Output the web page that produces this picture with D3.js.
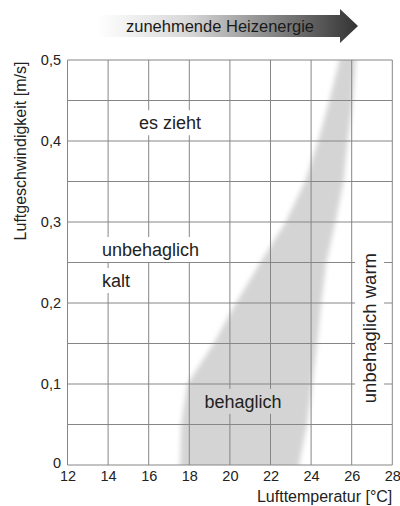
<!DOCTYPE html>
<html>
<head>
<meta charset="utf-8">
<script src="https://cdn.jsdelivr.net/npm/d3@7"></script>
<style>
  body { margin: 0; background: #fff; }
  text { font-family: "Liberation Sans", Arial, sans-serif; fill: #222; }
</style>
</head>
<body>
<div id="chart"></div>
<script>
// data
const tempTicks = [12, 14, 16, 18, 20, 22, 24, 26, 28];
const speedTicks = [0, 0.05, 0.1, 0.15, 0.2, 0.25, 0.3, 0.35, 0.4, 0.45, 0.5];
const comfortSpeed = [0, 0.05, 0.1, 0.15, 0.2, 0.25, 0.3, 0.35, 0.4, 0.45, 0.5];
const comfortLow   = [17.55, 17.6, 17.9, 19.2, 20.3, 21.5, 22.75, 23.7, 24.35, 24.9, 25.4];
const comfortHigh  = [23.4, 23.8, 24.05, 24.3, 24.5, 24.75, 25.2, 25.6, 25.8, 26.05, 26.2];

const zoneLabels = [
    { lines: ["es zieht"], t: 17.05, v: 0.4145, anchor: "middle", fill: "#fff" },
    { lines: ["unbehaglich", "kalt"], t: 13.7, v: 0.258, anchor: "start", fill: "#fff" },
    { lines: ["behaglich"], t: 20.65, v: 0.0705, anchor: "middle", fill: "#d4d4d4" }
];
const warmLabel = { text: "unbehaglich warm", t: 27.2, v: 0.169 };

const arrowText = "zunehmende Heizenergie";
const xTitle = "Lufttemperatur [°C]";
const yTitle = "Luftgeschwindigkeit [m/s]";

const svgAttr = { width: 400, height: 506 };
const margin = { top: 60, right: 7.7, bottom: 41, left: 67.5 };
const plotW = svgAttr.width - margin.left - margin.right;
const plotH = svgAttr.height - margin.top - margin.bottom;

const gridColor = "#868686";
const shadeColor = "#d4d4d4";

const x = d3.scaleLinear().domain([12, 28]).range([0, plotW]);
const y = d3.scaleLinear().domain([0, 0.5]).range([plotH, 0]);

const de = d3.formatLocale({ decimal: ",", thousands: ".", grouping: [3], currency: ["", " €"] });
const fmt = de.format(".1~f");

const svg = d3.select("#chart")
              .append("svg")
              .attr("width", svgAttr.width)
              .attr("height", svgAttr.height);

const defs = svg.append("defs");

// arrow gradient
const grad = defs.append("linearGradient")
                 .attr("id", "arrowGrad")
                 .attr("x1", "0").attr("x2", "1").attr("y1", "0").attr("y2", "0");
grad.append("stop").attr("offset", "0").attr("stop-color", "#ffffff");
grad.append("stop").attr("offset", "0.35").attr("stop-color", "#d8d8d8");
grad.append("stop").attr("offset", "1").attr("stop-color", "#333333");

defs.append("filter")
    .attr("id", "soft")
    .attr("x", "-20%").attr("y", "-5%").attr("width", "140%").attr("height", "110%")
    .append("feGaussianBlur")
    .attr("stdDeviation", 2.8);

defs.append("clipPath")
    .attr("id", "plotClip")
    .append("rect")
    .attr("width", plotW)
    .attr("height", plotH);

// top arrow
const arrow = svg.append("g");
arrow.append("path")
     .attr("d", "M97,15 L340,15 L340,9 L358,26 L340,43 L340,37 L97,37 Z")
     .attr("fill", "url(#arrowGrad)");
arrow.append("text")
     .attr("x", 220)
     .attr("y", 32)
     .attr("text-anchor", "middle")
     .style("font-size", "16.5px")
     .style("fill", "#1a1a1a")
     .text(arrowText);

const g = svg.append("g")
             .attr("transform", `translate(${margin.left},${margin.top})`);

// comfort zone (soft edges)
const zone = comfortSpeed.map((v, i) => ({ v: v, lo: comfortLow[i], hi: comfortHigh[i] }));
const padded = [{ ...zone[0], v: -0.03 }, ...zone, { ...zone[zone.length - 1], v: 0.53 }];
const area = d3.area()
               .y(d => y(d.v))
               .x0(d => x(d.lo))
               .x1(d => x(d.hi));
g.append("g")
 .attr("clip-path", "url(#plotClip)")
 .append("path")
 .attr("d", area(padded))
 .attr("fill", shadeColor)
 .attr("filter", "url(#soft)");

// grid
g.append("g")
 .selectAll("line")
 .data(speedTicks)
 .join("line")
 .attr("x1", 0).attr("x2", plotW)
 .attr("y1", d => y(d)).attr("y2", d => y(d))
 .attr("stroke", gridColor)
 .attr("stroke-width", 1);
g.append("g")
 .selectAll("line")
 .data(tempTicks)
 .join("line")
 .attr("y1", 0).attr("y2", plotH)
 .attr("x1", d => x(d)).attr("x2", d => x(d))
 .attr("stroke", gridColor)
 .attr("stroke-width", 1);

// axes (labels only)
const yAxis = g.append("g")
               .call(d3.axisLeft(y)
                       .tickValues(speedTicks.filter((d, i) => i % 2 === 0))
                       .tickSize(0)
                       .tickPadding(6.5)
                       .tickFormat(fmt));
yAxis.selectAll("text").attr("dy", "0.28em");
const xAxis = g.append("g")
               .attr("transform", `translate(0,${plotH})`)
               .call(d3.axisBottom(x)
                       .tickValues(tempTicks)
                       .tickSize(0)
                       .tickPadding(5.5)
                       .tickFormat(d3.format("d")));
[yAxis, xAxis].forEach(a => {
    a.select(".domain").remove();
    a.selectAll("text")
     .style("font-size", "14.5px")
     .style("font-family", "\"Liberation Sans\", Arial, sans-serif")
     .attr("fill", "#222");
});
yAxis.selectAll(".tick").filter(d => d === 0)
     .select("text").attr("dy", "0.2em");

// zone labels with knock-out boxes
const fs = 18;
zoneLabels.forEach(lab => {
    lab.lines.forEach((line, i) => {
        const lg = g.append("g");
        const t = lg.append("text")
                    .attr("x", x(lab.t))
                    .attr("y", y(lab.v) + i * 31)
                    .attr("text-anchor", lab.anchor)
                    .style("font-size", fs + "px")
                    .text(line);
        const b = t.node().getBBox();
        lg.insert("rect", "text")
          .attr("x", b.x - 7)
          .attr("y", b.y - 3)
          .attr("width", b.width + 14)
          .attr("height", b.height + 5)
          .attr("fill", lab.fill);
    });
});

const wg = g.append("g")
            .attr("transform", `translate(${x(warmLabel.t)},${y(warmLabel.v)}) rotate(-90)`);
const wt = wg.append("text")
             .attr("text-anchor", "middle")
             .style("font-size", "18.5px")
             .text(warmLabel.text);
const wb = wt.node().getBBox();
wg.insert("rect", "text")
  .attr("x", wb.x - 4)
  .attr("y", wb.y - 4)
  .attr("width", wb.width + 8)
  .attr("height", wb.height + 8)
  .attr("fill", "#fff");

// axis titles
svg.append("text")
   .attr("x", margin.left + plotW)
   .attr("y", 501.5)
   .attr("text-anchor", "end")
   .style("font-size", "16px")
   .text(xTitle);
svg.append("text")
   .attr("transform", "translate(26,151) rotate(-90)")
   .attr("text-anchor", "middle")
   .style("font-size", "16px")
   .text(yTitle);
</script>
</body>
</html>
